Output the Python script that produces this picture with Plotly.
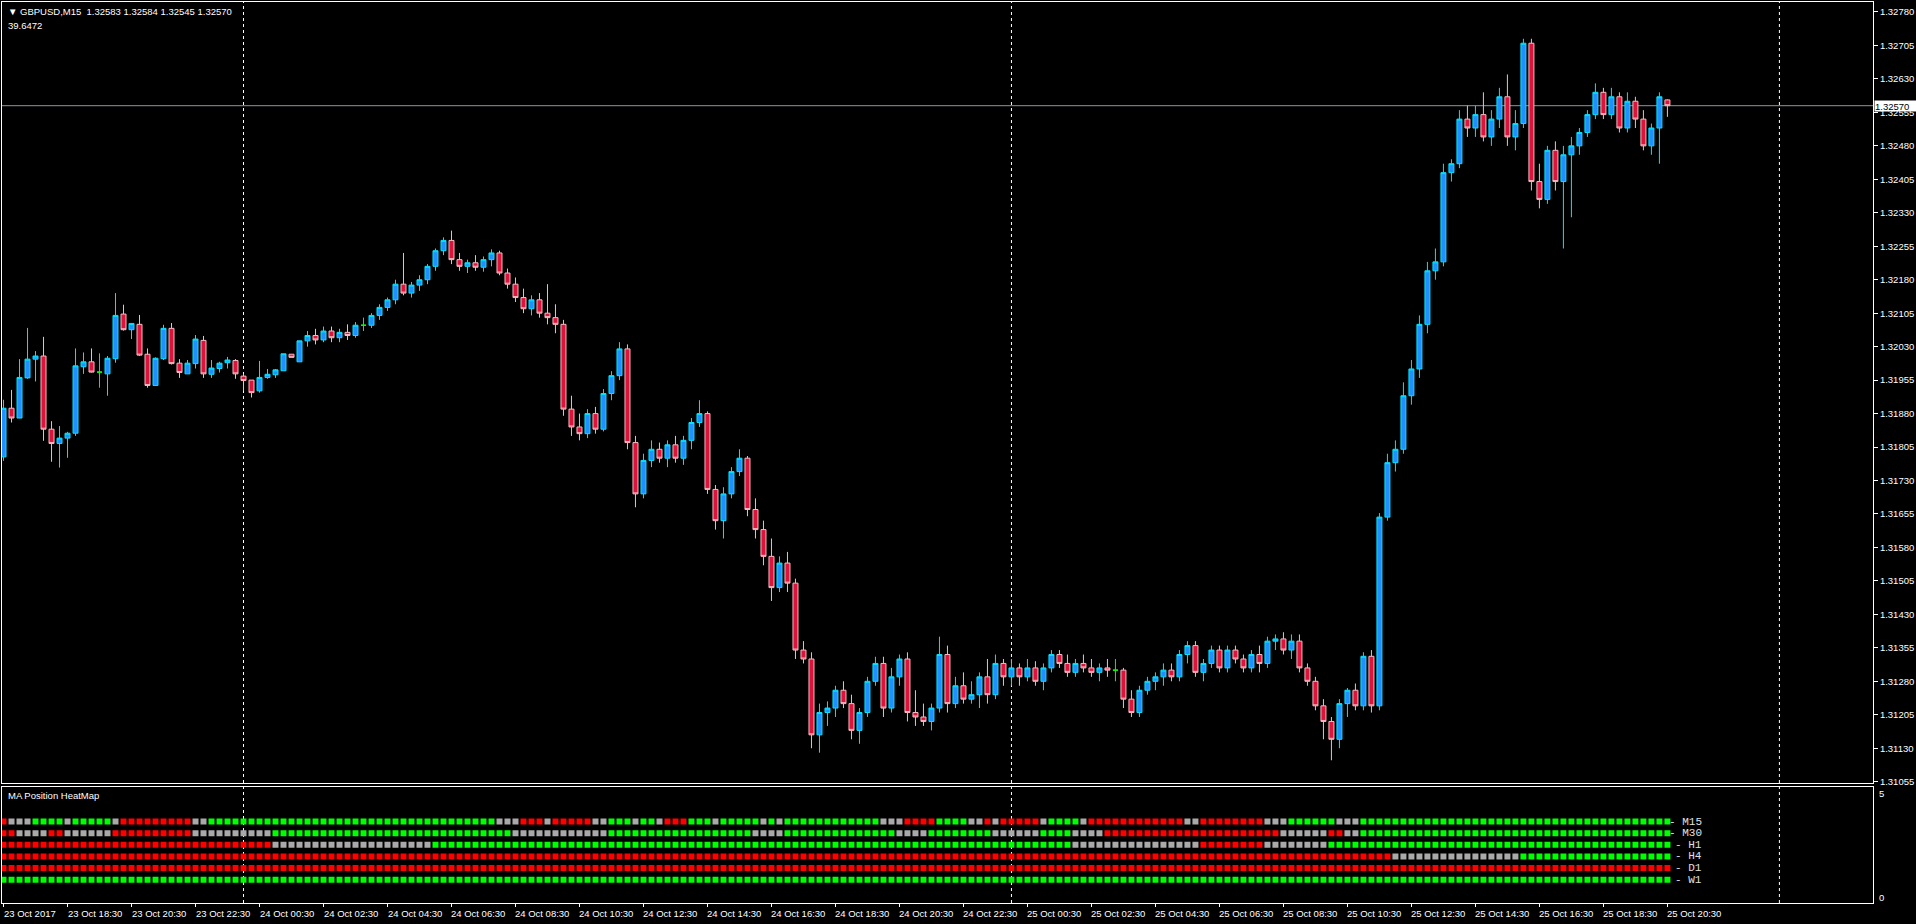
import plotly.graph_objects as go
import pandas as pd

# ---------------- data (GBPUSD M15) ----------------
symbol = "GBPUSD,M15"
indicator_value = "39.6472"
start_time = "2017-10-23 16:30"

opens = [
1.31783,1.31892,1.31870,1.31960,1.32002,1.32009,1.31845,1.31813,1.31825,1.31836,
1.31985,1.31996,1.31973,1.31969,1.32003,1.32103,1.32068,1.32080,1.32013,1.31943,
1.32003,1.32071,1.31993,1.31969,1.31992,1.32044,1.31968,1.31981,1.31994,1.31999,
1.31964,1.31955,1.31931,1.31961,1.31967,1.31976,1.32013,1.31996,1.32043,1.32055,
1.32045,1.32065,1.32050,1.32062,1.32055,1.32078,1.32078,1.32100,1.32118,1.32135,
1.32170,1.32150,1.32168,1.32180,1.32210,1.32245,1.32268,1.32225,1.32210,1.32218,
1.32208,1.32225,1.32240,1.32195,1.32170,1.32140,1.32115,1.32135,1.32105,1.32095,
1.32080,1.31890,1.31850,1.31835,1.31880,1.31845,1.31925,1.31965,1.32025,1.31815,
1.31700,1.31775,1.31800,1.31780,1.31810,1.31780,1.31820,1.31860,1.31880,1.31710,
1.31640,1.31700,1.31750,1.31780,1.31665,1.31620,1.31560,1.31490,1.31545,1.31500,
1.31350,1.31330,1.31160,1.31210,1.31220,1.31260,1.31230,1.31170,1.31210,1.31280,
1.31320,1.31220,1.31290,1.31330,1.31210,1.31200,1.31190,1.31220,1.31340,1.31230,
1.31270,1.31240,1.31250,1.31290,1.31250,1.31320,1.31290,1.31310,1.31290,1.31310,
1.31280,1.31310,1.31340,1.31320,1.31300,1.31320,1.31310,1.31300,1.31310,1.31305,
1.31305,1.31240,1.31210,1.31260,1.31280,1.31290,1.31305,1.31290,1.31340,1.31360,
1.31300,1.31320,1.31350,1.31310,1.31350,1.31330,1.31310,1.31340,1.31320,1.31370,
1.31375,1.31350,1.31370,1.31310,1.31280,1.31225,1.31190,1.31150,1.31230,1.31260,
1.31225,1.31336,1.31225,1.31648,1.31770,1.31800,1.31920,1.31980,1.32080,1.32200,
1.32220,1.32420,1.32440,1.32540,1.32520,1.32550,1.32500,1.32540,1.32590,1.32500,
1.32530,1.32710,1.32400,1.32360,1.32470,1.32400,1.32460,1.32480,1.32510,1.32550,
1.32600,1.32550,1.32590,1.32520,1.32580,1.32540,1.32480,1.32520,1.32583]

highs = [
1.31911,1.31933,1.32002,1.32072,1.32020,1.32052,1.31863,1.31852,1.31839,1.32026,
1.32017,1.32026,1.32015,1.32009,1.32150,1.32124,1.32082,1.32101,1.32026,1.32006,
1.32079,1.32083,1.32002,1.32000,1.32056,1.32054,1.32000,1.31996,1.32007,1.32002,
1.31969,1.31955,1.31998,1.31980,1.31980,1.32014,1.32013,1.32043,1.32065,1.32070,
1.32075,1.32075,1.32070,1.32080,1.32085,1.32095,1.32105,1.32125,1.32140,1.32180,
1.32240,1.32175,1.32190,1.32215,1.32250,1.32275,1.32290,1.32240,1.32225,1.32235,
1.32232,1.32248,1.32245,1.32205,1.32185,1.32160,1.32145,1.32150,1.32170,1.32125,
1.32090,1.31920,1.31880,1.31890,1.31895,1.31935,1.31975,1.32040,1.32035,1.31830,
1.31790,1.31820,1.31815,1.31820,1.31830,1.31830,1.31870,1.31910,1.31885,1.31720,
1.31715,1.31760,1.31800,1.31785,1.31690,1.31640,1.31600,1.31560,1.31570,1.31510,
1.31370,1.31345,1.31230,1.31235,1.31270,1.31280,1.31250,1.31220,1.31290,1.31335,
1.31335,1.31310,1.31340,1.31345,1.31260,1.31230,1.31230,1.31380,1.31360,1.31290,
1.31300,1.31280,1.31300,1.31330,1.31340,1.31330,1.31330,1.31320,1.31330,1.31325,
1.31320,1.31350,1.31350,1.31340,1.31330,1.31340,1.31330,1.31320,1.31330,1.31330,
1.31310,1.31260,1.31270,1.31290,1.31300,1.31320,1.31320,1.31350,1.31370,1.31370,
1.31330,1.31360,1.31360,1.31360,1.31360,1.31340,1.31350,1.31360,1.31380,1.31385,
1.31390,1.31385,1.31385,1.31320,1.31290,1.31240,1.31200,1.31240,1.31265,1.31275,
1.31345,1.31350,1.31657,1.31790,1.31820,1.31950,1.32000,1.32100,1.32220,1.32250,
1.32440,1.32450,1.32560,1.32570,1.32570,1.32600,1.32560,1.32610,1.32640,1.32560,
1.32720,1.32720,1.32440,1.32480,1.32490,1.32480,1.32500,1.32520,1.32560,1.32620,
1.32610,1.32610,1.32600,1.32600,1.32590,1.32560,1.32530,1.32600,1.32584]

lows = [
1.31774,1.31860,1.31870,1.31958,1.31952,1.31819,1.31772,1.31759,1.31781,1.31830,
1.31969,1.31972,1.31938,1.31920,1.31994,1.32066,1.32047,1.32009,1.31938,1.31943,
1.32000,1.31990,1.31960,1.31969,1.31981,1.31960,1.31960,1.31972,1.31981,1.31958,
1.31931,1.31916,1.31927,1.31958,1.31960,1.31976,1.32006,1.31996,1.32030,1.32035,
1.32040,1.32040,1.32040,1.32045,1.32050,1.32065,1.32072,1.32090,1.32110,1.32125,
1.32145,1.32140,1.32155,1.32170,1.32200,1.32235,1.32215,1.32200,1.32195,1.32200,
1.32198,1.32210,1.32190,1.32160,1.32130,1.32105,1.32100,1.32095,1.32080,1.32060,
1.31875,1.31830,1.31820,1.31825,1.31835,1.31840,1.31910,1.31955,1.31800,1.31670,
1.31690,1.31760,1.31770,1.31760,1.31770,1.31765,1.31800,1.31850,1.31700,1.31620,
1.31600,1.31690,1.31740,1.31650,1.31600,1.31540,1.31460,1.31480,1.31480,1.31330,
1.31320,1.31130,1.31120,1.31180,1.31200,1.31220,1.31150,1.31140,1.31200,1.31270,
1.31200,1.31210,1.31270,1.31190,1.31180,1.31180,1.31170,1.31210,1.31210,1.31220,
1.31230,1.31230,1.31220,1.31230,1.31240,1.31270,1.31270,1.31270,1.31280,1.31270,
1.31260,1.31300,1.31310,1.31290,1.31290,1.31300,1.31290,1.31280,1.31290,1.31280,
1.31220,1.31200,1.31200,1.31250,1.31260,1.31270,1.31280,1.31280,1.31320,1.31290,
1.31280,1.31310,1.31300,1.31300,1.31320,1.31300,1.31300,1.31300,1.31310,1.31350,
1.31340,1.31330,1.31300,1.31270,1.31215,1.31150,1.31103,1.31130,1.31200,1.31215,
1.31215,1.31210,1.31215,1.31640,1.31750,1.31790,1.31900,1.31960,1.32060,1.32180,
1.32210,1.32400,1.32430,1.32500,1.32500,1.32490,1.32480,1.32520,1.32480,1.32470,
1.32520,1.32380,1.32340,1.32350,1.32380,1.32250,1.32320,1.32460,1.32500,1.32540,
1.32540,1.32540,1.32510,1.32510,1.32520,1.32470,1.32460,1.32440,1.32545]

closes = [
1.31892,1.31870,1.31961,1.32002,1.32009,1.31845,1.31813,1.31825,1.31836,1.31987,
1.31996,1.31973,1.31973,1.32004,1.32100,1.32068,1.32082,1.32011,1.31943,1.32004,
1.32071,1.31992,1.31972,1.31993,1.32047,1.31969,1.31982,1.31993,1.32000,1.31969,
1.31954,1.31927,1.31961,1.31968,1.31978,1.32014,1.32006,1.32043,1.32055,1.32045,
1.32065,1.32050,1.32062,1.32055,1.32078,1.32078,1.32100,1.32118,1.32135,1.32170,
1.32150,1.32168,1.32180,1.32210,1.32245,1.32268,1.32225,1.32210,1.32218,1.32208,
1.32225,1.32240,1.32195,1.32170,1.32140,1.32115,1.32135,1.32105,1.32095,1.32080,
1.31890,1.31850,1.31835,1.31880,1.31845,1.31925,1.31965,1.32025,1.31815,1.31700,
1.31775,1.31800,1.31780,1.31810,1.31780,1.31820,1.31860,1.31880,1.31710,1.31640,
1.31700,1.31750,1.31780,1.31665,1.31620,1.31560,1.31490,1.31545,1.31500,1.31350,
1.31330,1.31160,1.31210,1.31220,1.31260,1.31230,1.31170,1.31210,1.31280,1.31320,
1.31220,1.31290,1.31330,1.31210,1.31200,1.31190,1.31220,1.31340,1.31230,1.31270,
1.31240,1.31250,1.31290,1.31250,1.31320,1.31290,1.31310,1.31290,1.31310,1.31280,
1.31310,1.31340,1.31320,1.31300,1.31320,1.31310,1.31300,1.31310,1.31305,1.31305,
1.31240,1.31210,1.31260,1.31280,1.31290,1.31305,1.31290,1.31340,1.31360,1.31300,
1.31320,1.31350,1.31310,1.31350,1.31330,1.31310,1.31340,1.31320,1.31370,1.31375,
1.31350,1.31370,1.31310,1.31280,1.31225,1.31190,1.31150,1.31230,1.31260,1.31225,
1.31336,1.31225,1.31648,1.31770,1.31800,1.31920,1.31980,1.32080,1.32200,1.32220,
1.32420,1.32440,1.32540,1.32520,1.32550,1.32500,1.32540,1.32590,1.32500,1.32530,
1.32710,1.32400,1.32360,1.32470,1.32400,1.32460,1.32480,1.32510,1.32550,1.32600,
1.32550,1.32590,1.32520,1.32580,1.32540,1.32480,1.32520,1.32590,1.32570]

# MA Position HeatMap: run-length encoded states per bar
# R = below (red), N = above (green), S = neutral (silver)
hm_names = ["M15", "M30", "H1", "H4", "D1", "W1"]
hm_levels = [3.5, 3.0, 2.5, 2.0, 1.5, 1.0]
hm_M15 = [("R",1),("S",3),("N",4),("S",1),("N",5),("S",1),("R",9),("S",2),("N",36),
          ("S",3),("R",3),("S",1),("R",5),("S",2),("N",3),("S",1),("N",2),("S",1),
          ("R",3),("N",3),("S",1),("N",5),("S",1),("N",1),("S",1),("N",12),("S",3),
          ("R",4),("N",4),("S",2),("R",1),("S",1),("R",5),("S",1),("N",4),("S",1),
          ("R",12),("S",2),("R",8),("S",3),("N",6),("S",3),("N",39)]
hm_M30 = [("R",2),("S",4),("R",2),("S",6),("R",10),("S",10),("N",30),("S",12),
          ("N",18),("S",4),("N",14),("S",4),("N",8),("S",6),("N",4),("S",4),
          ("R",22),("S",6),("R",2),("S",2),("N",39)]
hm_H1 = [("R",34),("S",20),("N",80),("S",16),("R",8),("S",8),("N",43)]
hm_H4 = [("R",174),("S",16),("N",19)]
hm_D1 = [("R",209)]
hm_W1 = [("N",209)]
hm_rows = [hm_M15, hm_M30, hm_H1, hm_H4, hm_D1, hm_W1]

# ---------------- styling ----------------
BG = "#000000"
FG = "#FFFFFF"
FONT = "Liberation Sans"
UP_FILL, UP_LINE = "#1E90FF", "#00E5FF"
DN_FILL, DN_LINE = "#DC143C", "#FFB6C1"
DOJI = "#00FF00"
HM_COL = {"R": "#FF0000", "N": "#00FF00", "S": "#A9A9A9"}

n = len(opens)
xs = list(range(n))
times = pd.date_range(start_time, periods=n, freq="15min")
X_RANGE = [-0.19, 233.7]
slots = pd.date_range(start_time, periods=int(X_RANGE[1]) + 1, freq="15min")

fig = go.Figure()

body = [i for i in xs if opens[i] != closes[i]]
doji = [i for i in xs if opens[i] == closes[i]]
fig.add_trace(go.Candlestick(
    x=body, open=[opens[i] for i in body], high=[highs[i] for i in body],
    low=[lows[i] for i in body], close=[closes[i] for i in body],
    increasing=dict(fillcolor=UP_FILL, line=dict(color=UP_LINE, width=1)),
    decreasing=dict(fillcolor=DN_FILL, line=dict(color=DN_LINE, width=1)),
    whiskerwidth=0, showlegend=False, xaxis="x", yaxis="y", hoverinfo="skip"))
fig.add_trace(go.Candlestick(
    x=doji, open=[opens[i] for i in doji], high=[highs[i] for i in doji],
    low=[lows[i] for i in doji], close=[closes[i] for i in doji],
    increasing=dict(fillcolor=DOJI, line=dict(color=DOJI, width=1)),
    decreasing=dict(fillcolor=DOJI, line=dict(color=DOJI, width=1)),
    whiskerwidth=0, showlegend=False, xaxis="x", yaxis="y", hoverinfo="skip"))

# heatmap squares
for state, col in HM_COL.items():
    hx, hy = [], []
    for runs, lvl in zip(hm_rows, hm_levels):
        pos = 0
        for s, cnt in runs:
            if s == state:
                hx.extend(range(pos, pos + cnt))
                hy.extend([lvl] * cnt)
            pos += cnt
    fig.add_trace(go.Scatter(x=hx, y=hy, mode="markers", xaxis="x2", yaxis="y2",
                             marker=dict(symbol="square", size=6, color=col,
                                         line=dict(width=0)),
                             showlegend=False, hoverinfo="skip"))

MAIN_DOM = [0.1332, 1.0]
SUB_DOM = [0.0, 0.1291]

# x labels every 2 hours (at :30 of even hours)
lab_idx = [i for i, t in enumerate(times) if t.minute == 30 and t.hour % 2 == 0]
lab_txt = [times[i].strftime("%d %b %Y") if i == 0 else times[i].strftime("%d %b %H:%M")
           for i in lab_idx]
sep_idx = [i for i, t in enumerate(slots) if t.hour == 0 and t.minute == 0]

axis_common = dict(showgrid=False, zeroline=False, showline=True, mirror=True,
                   linecolor=FG, linewidth=1)
fig.update_layout(
    width=1916, height=924,
    margin=dict(l=2, r=43, t=2, b=21),
    paper_bgcolor=BG, plot_bgcolor=BG,
    font=dict(family=FONT, size=10, color=FG),
    boxgap=0.375, boxgroupgap=0,
    hovermode=False,
    xaxis=dict(domain=[0, 1], range=X_RANGE, anchor="y", showticklabels=False,
               ticks="", rangeslider=dict(visible=False), **axis_common),
    yaxis=dict(domain=MAIN_DOM, range=[1.310521, 1.328024], side="right", anchor="x",
               tick0=1.31055, dtick=0.00075, tickformat=".5f", ticks="outside",
               ticklen=4, tickcolor=FG, tickfont=dict(family=FONT, size=9.5, color=FG),
               **axis_common),
    xaxis2=dict(domain=[0, 1], range=X_RANGE, anchor="y2", matches="x",
                tickmode="array", tickvals=lab_idx, showticklabels=False,
                ticks="outside", ticklen=3, tickcolor=FG, **axis_common),
    yaxis2=dict(domain=SUB_DOM, range=[0, 5], side="right", anchor="x2",
                showticklabels=False, ticks="", **axis_common),
)

shapes = []
for s in sep_idx:
    shapes.append(dict(type="line", xref="x", yref="paper", x0=s, x1=s, y0=0, y1=1,
                       line=dict(color=FG, width=1, dash="3px,3px"), layer="below"))
shapes.append(dict(type="line", xref="x domain", yref="y", x0=0, x1=1,
                   y0=closes[-1], y1=closes[-1],
                   line=dict(color="#8A96A3", width=1), layer="below"))
fig.update_layout(shapes=shapes)

ann = []
hdr = "▼ {}  {:.5f} {:.5f} {:.5f} {:.5f}".format(symbol, opens[-1], highs[-1], lows[-1], closes[-1])
ann.append(dict(text=hdr, xref="paper", yref="paper", x=0, y=1, xanchor="left",
                yanchor="middle", xshift=4, yshift=-9, showarrow=False,
                font=dict(family=FONT, size=9.5, color=FG)))
ann.append(dict(text=indicator_value, xref="paper", yref="paper", x=0, y=1,
                xanchor="left", yanchor="middle", xshift=4, yshift=-23,
                showarrow=False, font=dict(family=FONT, size=9.5, color=FG)))
ann.append(dict(text="MA Position HeatMap", xref="x2 domain", yref="y2 domain", x=0, y=1,
                xanchor="left", yanchor="middle", xshift=4, yshift=-9,
                showarrow=False, font=dict(family=FONT, size=9.5, color=FG)))
ann.append(dict(text="5", xref="paper", yref="y2 domain", x=1, y=1, xanchor="left",
                yanchor="middle", xshift=4, yshift=-7, showarrow=False,
                font=dict(family=FONT, size=9.5, color=FG)))
ann.append(dict(text="0", xref="paper", yref="y2 domain", x=1, y=0, xanchor="left",
                yanchor="middle", xshift=4, yshift=6, showarrow=False,
                font=dict(family=FONT, size=9.5, color=FG)))
for name, lvl in zip(hm_names, hm_levels):
    ann.append(dict(text="- " + name, xref="x2", yref="y2", x=n - 1, y=lvl,
                    xanchor="right", yanchor="middle", xshift=37, showarrow=False,
                    font=dict(family="Liberation Mono", size=11, color="#E0E0E0")))
for i, t in zip(lab_idx, lab_txt):
    ann.append(dict(text=t, xref="x2", yref="paper", x=i, y=0, xanchor="left",
                    yanchor="middle", xshift=-2, yshift=-10, showarrow=False,
                    font=dict(family=FONT, size=9.5, color=FG)))
ann.append(dict(text="{:.5f}".format(closes[-1]), xref="paper", yref="y", x=1,
                y=closes[-1], xanchor="left", yanchor="middle", xshift=1,
                showarrow=False, bgcolor="#FFFFFF", width=41, height=10, align="left",
                borderpad=0, font=dict(family=FONT, size=9.5, color="#000000")))
fig.update_layout(annotations=ann)

fig.write_html("out.html")
